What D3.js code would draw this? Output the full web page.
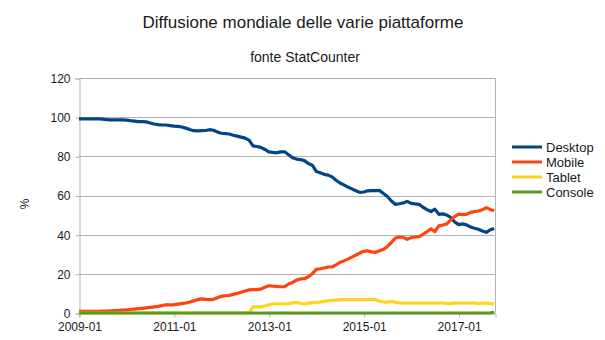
<!DOCTYPE html>
<html>
<head>
<meta charset="utf-8">
<script src="https://cdn.jsdelivr.net/npm/d3@7"></script>
<style>
  html, body { margin: 0; padding: 0; background: #fff; }
  svg { display: block; font-family: "Liberation Sans", Arial, sans-serif; }
</style>
</head>
<body>
<svg id="chart" width="605" height="340"></svg>
<script>
// Monthly share (%) from 2009-01 to 2017-10, source StatCounter
const startYear = 2009;
const monthCount = 106;

const desktop = [
  99.1, 99.1, 99.1, 99.1, 99.1, 99.1, 99.0, 98.7, 98.6, 98.6,
  98.6, 98.6, 98.5, 98.2, 98.0, 97.7, 97.7, 97.6, 97.0, 96.5,
  96.2, 96.0, 96.0, 95.7, 95.4, 95.3, 95.0, 94.4, 93.7, 93.1,
  93.0, 93.1, 93.2, 93.6, 93.3, 92.4, 91.8, 91.6, 91.4, 90.8,
  90.3, 89.8, 89.3, 88.3, 85.3, 85.0, 84.6, 83.5, 82.3, 82.0,
  81.8, 82.3, 82.3, 80.8, 79.3, 78.6, 78.3, 77.8, 76.3, 75.5,
  72.3, 71.6, 70.8, 70.4, 69.5, 67.8, 66.4, 65.4, 64.3, 63.4,
  62.4, 61.6, 61.8, 62.4, 62.5, 62.5, 62.6, 61.0, 59.5, 57.2,
  55.5, 55.8, 56.2, 57.0, 56.0, 55.7, 55.5, 54.0, 52.8, 51.8,
  53.0, 50.4, 50.6, 50.0, 48.8, 46.5, 45.1, 45.5, 45.0, 43.9,
  43.3, 42.8, 41.9, 41.2, 42.5, 43.2
];

const mobile = [
  0.8, 0.8, 0.8, 0.9, 0.9, 0.9, 1.0, 1.0, 1.1, 1.2,
  1.3, 1.5, 1.6, 1.8, 2.0, 2.2, 2.4, 2.6, 2.9, 3.1,
  3.4, 3.8, 4.2, 4.2, 4.2, 4.5, 4.8, 5.1, 5.6, 6.2,
  6.8, 7.2, 7.0, 6.8, 7.0, 7.8, 8.5, 8.8, 9.0, 9.5,
  10.0, 10.6, 11.2, 11.8, 11.9, 11.9, 12.2, 13.2, 13.9, 13.7,
  13.6, 13.4, 13.5, 14.8, 15.6, 16.8, 17.4, 17.5, 18.5, 20.0,
  22.3, 22.6, 23.0, 23.5, 23.5, 24.6, 25.9, 26.6, 27.5, 28.5,
  29.6, 30.6, 31.5, 31.8, 31.2, 31.0, 31.8, 32.5, 34.0, 36.0,
  38.3, 38.8, 38.6, 37.6, 38.5, 38.8, 39.0, 40.2, 41.5, 43.0,
  41.5, 44.5, 44.9, 45.5, 47.5, 49.2, 50.5, 50.2, 50.4, 51.4,
  51.8, 52.1, 52.7, 53.8, 52.9, 52.2
];

const tablet = [
  0, 0, 0, 0, 0, 0, 0, 0, 0, 0,
  0, 0, 0, 0, 0, 0, 0, 0, 0, 0,
  0, 0, 0, 0, 0, 0, 0, 0, 0, 0,
  0, 0, 0, 0, 0, 0, 0, 0, 0, 0,
  0, 0, 0, 0, 3.1, 3.1, 3.1, 3.6, 4.2, 4.6,
  4.7, 4.7, 4.7, 4.8, 5.2, 5.4, 5.0, 4.6, 4.9, 5.3,
  5.4, 5.6, 5.9, 6.2, 6.4, 6.6, 6.8, 6.8, 6.8, 6.8,
  6.8, 6.8, 6.8, 6.8, 6.8, 6.8, 6.0, 5.6, 5.7, 5.9,
  5.5, 5.1, 5.1, 5.1, 5.1, 5.1, 5.1, 5.1, 5.1, 5.1,
  5.1, 5.1, 5.1, 4.9, 4.8, 5.0, 5.1, 5.1, 5.1, 5.1,
  5.1, 4.8, 5.0, 5.1, 4.9, 4.5
];

const consoleShare = [
  0, 0, 0, 0, 0, 0, 0, 0, 0, 0,
  0, 0, 0, 0, 0, 0, 0, 0, 0, 0,
  0, 0, 0, 0, 0, 0, 0, 0, 0, 0,
  0, 0, 0, 0, 0, 0, 0, 0, 0, 0,
  0, 0, 0, 0, 0, 0, 0, 0, 0, 0,
  0, 0, 0, 0, 0, 0, 0, 0, 0, 0,
  0, 0, 0, 0, 0, 0, 0, 0, 0, 0,
  0, 0, 0, 0, 0, 0, 0, 0, 0, 0,
  0, 0, 0, 0, 0, 0, 0, 0, 0, 0,
  0, 0, 0, 0, 0, 0, 0, 0, 0, 0,
  0, 0, 0, 0, 0.1, 0.4
];

const seriesNames = ["Desktop", "Mobile", "Tablet", "Console"];
const seriesColors = ["#004586", "#ff420e", "#ffd320", "#579d1c"];
const xTickLabels = ["2009-01", "2011-01", "2013-01", "2015-01", "2017-01"];
const yTicks = [0, 20, 40, 60, 80, 100, 120];

const title = "Diffusione mondiale delle varie piattaforme";
const subtitle = "fonte StatCounter";
const yAxisTitle = "%";

const series = [desktop, mobile, tablet, consoleShare].map((values, k) => ({
  name: seriesNames[k],
  color: seriesColors[k],
  values
}));

// month index of each tick label, counted from the first month
const xTickIndex = xTickLabels.map(s => {
  const [y, m] = s.split("-").map(Number);
  return (y - startYear) * 12 + (m - 1);
});

const svg = d3.select("#chart");
const plot = { left: 79, right: 495, top: 78, bottom: 313 };

const x = d3.scaleLinear().domain([0, monthCount - 0.8]).range([plot.left, plot.right]);
const y = d3.scaleLinear().domain([0, 120]).range([plot.bottom, plot.top]);

const textColor = "#1a1a1a";
const gridColor = "#b3b3b3";

// titles
svg.append("text")
  .attr("x", 303).attr("y", 28)
  .attr("text-anchor", "middle")
  .attr("font-size", 17)
  .attr("fill", textColor)
  .text(title);

svg.append("text")
  .attr("x", 305).attr("y", 62)
  .attr("text-anchor", "middle")
  .attr("font-size", 14)
  .attr("fill", textColor)
  .text(subtitle);

// horizontal grid
svg.append("g")
  .selectAll("line")
  .data(yTicks)
  .join("line")
  .attr("x1", plot.left).attr("x2", plot.right)
  .attr("y1", d => Math.round(y(d)) + 0.5).attr("y2", d => Math.round(y(d)) + 0.5)
  .attr("stroke", gridColor).attr("stroke-width", 1);

// right frame edge
svg.append("line")
  .attr("x1", plot.right + 0.5).attr("x2", plot.right + 0.5)
  .attr("y1", y(120)).attr("y2", y(0))
  .attr("stroke", gridColor);

// y axis
const yAxis = d3.axisLeft(y).tickValues(yTicks).tickSize(4).tickPadding(5);
const gy = svg.append("g")
  .attr("transform", `translate(${plot.left + 0.5},0.5)`)
  .call(yAxis);
gy.select(".domain").attr("stroke", gridColor);
gy.selectAll(".tick line").attr("stroke", gridColor);
gy.selectAll(".tick text")
  .attr("font-size", 12).attr("fill", textColor)
  .attr("font-family", "Liberation Sans, Arial, sans-serif");

// x axis
const xAxis = d3.axisBottom(x).tickValues(xTickIndex)
  .tickFormat((d, i) => xTickLabels[i]).tickSize(4).tickPadding(5);
const gx = svg.append("g")
  .attr("transform", `translate(0.5,${plot.bottom + 0.5})`)
  .call(xAxis);
gx.select(".domain").attr("stroke", gridColor);
gx.selectAll(".tick line").attr("stroke", gridColor);
gx.selectAll(".tick text")
  .attr("font-size", 12).attr("fill", textColor)
  .attr("font-family", "Liberation Sans, Arial, sans-serif");

// y axis title
svg.append("text")
  .attr("transform", "translate(29,204) rotate(-90)")
  .attr("text-anchor", "middle")
  .attr("font-size", 12)
  .attr("fill", textColor)
  .text(yAxisTitle);

// series lines
const line = d3.line()
  .x((d, i) => x(i))
  .y(d => y(d))
  .curve(d3.curveLinear);

svg.append("g")
  .selectAll("path")
  .data(series)
  .join("path")
  .attr("d", d => line(d.values))
  .attr("fill", "none")
  .attr("stroke", d => d.color)
  .attr("stroke-width", 3.2)
  .attr("stroke-linejoin", "round");

// legend
const legend = svg.append("g").attr("transform", "translate(512,147)");
const rows = legend.selectAll("g")
  .data(series)
  .join("g")
  .attr("transform", (d, i) => `translate(0,${i * 15})`);
rows.append("line")
  .attr("x1", 0).attr("x2", 30)
  .attr("stroke", d => d.color)
  .attr("stroke-width", 3);
rows.append("text")
  .attr("x", 34).attr("y", 4.5)
  .attr("font-size", 13)
  .attr("fill", textColor)
  .text(d => d.name);
</script>
</body>
</html>
